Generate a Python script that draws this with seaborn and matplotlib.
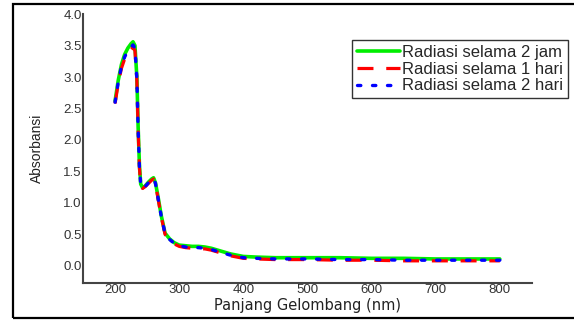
"""
Spektrum absorbansi UV-Vis untuk tiga lama radiasi.
"""
import matplotlib
matplotlib.use("Agg")
import matplotlib.pyplot as plt
import numpy as np
import pandas as pd
import seaborn as sns
from matplotlib.patches import Rectangle

# ── Data ──────────────────────────────────────────────────────────────────────
panjang_gelombang = [200, 205, 210, 215, 220, 225, 228, 231, 234, 236, 238, 240,
                     243, 247, 252, 257, 260, 263, 267, 272, 278, 285, 292, 300,
                     310, 320, 330, 340, 350, 360, 370, 380, 390, 400, 420, 450,
                     500, 550, 600, 650, 700, 750, 800]

radiasi_2_jam = [2.62, 2.95, 3.20, 3.36, 3.46, 3.53, 3.56, 3.50, 3.00, 2.20, 1.60, 1.30,
                 1.24, 1.27, 1.33, 1.38, 1.40, 1.32, 1.10, 0.80, 0.52, 0.43, 0.37, 0.33,
                 0.32, 0.31, 0.31, 0.30, 0.28, 0.25, 0.22, 0.19, 0.17, 0.15, 0.14, 0.13,
                 0.13, 0.13, 0.12, 0.12, 0.11, 0.11, 0.11]

radiasi_1_hari = [2.58, 2.90, 3.14, 3.29, 3.38, 3.44, 3.47, 3.42, 2.95, 2.15, 1.56, 1.28,
                  1.23, 1.26, 1.31, 1.36, 1.38, 1.30, 1.07, 0.78, 0.50, 0.41, 0.35, 0.31,
                  0.29, 0.28, 0.27, 0.27, 0.25, 0.22, 0.19, 0.16, 0.14, 0.12, 0.11, 0.10,
                  0.10, 0.09, 0.09, 0.08, 0.08, 0.08, 0.08]

radiasi_2_hari = [2.60, 2.92, 3.17, 3.32, 3.42, 3.48, 3.51, 3.46, 2.97, 2.17, 1.58, 1.29,
                  1.23, 1.26, 1.32, 1.37, 1.39, 1.31, 1.08, 0.79, 0.51, 0.42, 0.36, 0.32,
                  0.30, 0.29, 0.29, 0.28, 0.26, 0.23, 0.20, 0.17, 0.15, 0.13, 0.12, 0.11,
                  0.11, 0.10, 0.10, 0.09, 0.09, 0.09, 0.09]

label_seri = ["Radiasi selama 2 jam", "Radiasi selama 1 hari", "Radiasi selama 2 hari"]
x_ticks = [200, 300, 400, 500, 600, 700, 800]
y_ticks = [0.0, 0.5, 1.0, 1.5, 2.0, 2.5, 3.0, 3.5, 4.0]

# ── Gaya ──────────────────────────────────────────────────────────────────────
sns.set_style("white")
plt.rcParams["font.family"] = ["Liberation Sans", "DejaVu Sans"]

fig = plt.figure(figsize=(5.74, 3.2), dpi=100)
ax = fig.add_axes([0.1446, 0.116, 0.782, 0.84])

# bingkai luar gambar
fig.patches.append(Rectangle((13 / 574, 0.006), 1.0, 0.982, transform=fig.transFigure,
                             fill=False, edgecolor="black", linewidth=1.6))

gaya = [
    dict(color="#00ee00", linestyle="-", linewidth=2.6),
    dict(color="#ff0000", linestyle=(0, (5, 4)), linewidth=2.3),
    dict(color="#0000ff", linestyle=(0, (1, 3.5)), linewidth=2.4,
         dash_capstyle="round"),
]
for nilai, label, g in zip([radiasi_2_jam, radiasi_1_hari, radiasi_2_hari], label_seri, gaya):
    df = pd.DataFrame({"x": panjang_gelombang, "y": nilai})
    sns.lineplot(data=df, x="x", y="y", ax=ax, label=label, **g)

ax.set_xlim(150, 850)
ax.set_ylim(-0.27, 4.0)
ax.set_xticks(x_ticks)
ax.set_yticks(y_ticks)
ax.set_yticklabels([f"{v:.1f}" for v in y_ticks])
ax.tick_params(axis="y", length=0, pad=1, labelsize=9.5, colors="#333333")
ax.tick_params(axis="x", length=0, pad=1, labelsize=9.5, colors="#333333")

ax.set_xlabel("Panjang Gelombang (nm)", fontsize=10.5, family="DejaVu Sans",
              color="#222222", labelpad=1)
ax.set_ylabel("Absorbansi", fontsize=10, color="#222222", labelpad=14)

for s in ["top", "right"]:
    ax.spines[s].set_visible(False)
for s in ["left", "bottom"]:
    ax.spines[s].set_color("#444444")
    ax.spines[s].set_linewidth(1.5)

leg = ax.legend(loc="upper left", bbox_to_anchor=(0.599, 0.903), fontsize=12,
                frameon=True, fancybox=False, handlelength=2.6, handletextpad=0.1,
                borderpad=0.3, labelspacing=0.1, borderaxespad=0)
leg.get_frame().set_edgecolor("black")
leg.get_frame().set_linewidth(1.0)

fig.savefig("out.png", dpi=100)
